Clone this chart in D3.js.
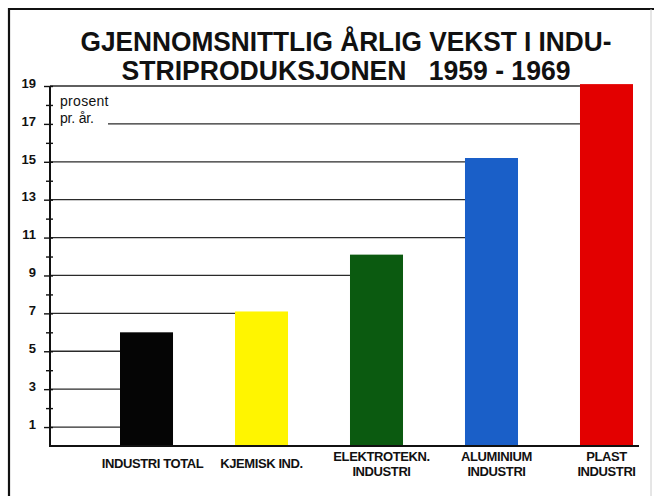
<!DOCTYPE html>
<html>
<head>
<meta charset="utf-8">
<script src="https://cdn.jsdelivr.net/npm/d3@7"></script>
<style>
  html, body { margin: 0; padding: 0; background: #fff; }
  svg { display: block; }
  text { font-family: "Liberation Sans", Arial, sans-serif; }
</style>
</head>
<body>
<div id="chart"></div>
<script>
// ---------- data ----------
const titleLines = ["GJENNOMSNITTLIG ÅRLIG VEKST I INDU-", "STRIPRODUKSJONEN   1959 - 1969"];
const unitLines = ["prosent", "pr. år."];
const categories = [
  ["INDUSTRI TOTAL"],
  ["KJEMISK IND."],
  ["ELEKTROTEKN.", "INDUSTRI"],
  ["ALUMINIUM", "INDUSTRI"],
  ["PLAST", "INDUSTRI"]
];
const values = [6.0, 7.1, 10.1, 15.2, 19.1];
const barColors = ["#050505", "#fff500", "#0b5a10", "#1a5fc8", "#e30000"];
const majorTicks = [1, 3, 5, 7, 9, 11, 13, 15, 17, 19];
const minorTicks = [2, 4, 6, 8, 10, 12, 14, 16, 18];

// ---------- layout ----------
const W = 654, H = 496;
const axisX = 50;
const svg = d3.select("#chart").append("svg").attr("width", W).attr("height", H);

const x = d3.scaleBand().domain(d3.range(categories.length)).range([120, 633])
  .paddingInner(0.539).paddingOuter(0);
const y = d3.scaleLinear().domain([0, 19]).range([446, 86]);

// frame
svg.append("line").attr("x1", 9).attr("x2", 9).attr("y1", 8).attr("y2", H)
  .attr("stroke", "#111").attr("stroke-width", 2.2);
svg.append("line").attr("x1", 8).attr("x2", W).attr("y1", 9).attr("y2", 9)
  .attr("stroke", "#111").attr("stroke-width", 2);
svg.append("line").attr("x1", 651).attr("x2", 651).attr("y1", 9).attr("y2", H)
  .attr("stroke", "#ccc").attr("stroke-width", 1);

// title
const titleWidths = [531, 449];
titleLines.forEach((t, i) => {
  svg.append("text")
    .attr("x", 346).attr("y", 51 + i * 29)
    .attr("text-anchor", "middle")
    .attr("textLength", titleWidths[i]).attr("lengthAdjust", "spacingAndGlyphs")
    .style("white-space", "pre")
    .style("font-size", "27px").style("font-weight", 700).attr("fill", "#111")
    .text(t);
});

// gridlines at odd values: run from axis to the first bar that rises above them
majorTicks.forEach(v => {
  const hit = values.findIndex(d => d > v);
  const xEnd = hit < 0 ? 633 : x(hit);
  const xStart = v === 17 ? 108 : axisX;
  svg.append("line")
    .attr("x1", xStart).attr("x2", xEnd)
    .attr("y1", y(v)).attr("y2", y(v))
    .attr("stroke", "#2a2a2a").attr("stroke-width", 1.3);
});

// unit label
unitLines.forEach((t, i) => {
  svg.append("text")
    .attr("x", 60).attr("y", 106 + i * 17)
    .style("font-size", "14px").attr("fill", "#111")
    .style("letter-spacing", i === 0 ? "0.3px" : "-0.2px")
    .text(t);
});

// bars
svg.append("g").selectAll("rect").data(values).enter().append("rect")
  .attr("x", (d, i) => x(i))
  .attr("y", d => y(d))
  .attr("width", x.bandwidth())
  .attr("height", d => y(0) - y(d))
  .attr("fill", (d, i) => barColors[i]);

// y axis (major ticks with labels, minor without)
const gMaj = svg.append("g").attr("transform", `translate(${axisX},0)`)
  .call(d3.axisLeft(y).tickValues(majorTicks).tickSizeInner(6).tickSizeOuter(0).tickPadding(8)
    .tickFormat(d3.format("d")));
const gMin = svg.append("g").attr("transform", `translate(${axisX},0)`)
  .call(d3.axisLeft(y).tickValues(minorTicks).tickSizeInner(4).tickSizeOuter(0).tickFormat(""));
[gMaj, gMin].forEach(g => {
  g.select(".domain").remove();
  g.selectAll(".tick line").attr("x1", 3).attr("stroke", "#111").attr("stroke-width", 1.4);
});
gMaj.selectAll(".tick text")
  .attr("dy", "0.1em")
  .style("font-size", "13px").style("font-weight", 700)
  .style("font-family", "'Liberation Sans', Arial, sans-serif")
  .attr("fill", "#111");

// axis line and baseline
svg.append("line").attr("x1", axisX).attr("x2", axisX).attr("y1", y(19)).attr("y2", y(0) + 1)
  .attr("stroke", "#111").attr("stroke-width", 2);
svg.append("line").attr("x1", axisX - 1).attr("x2", 639).attr("y1", y(0)).attr("y2", y(0))
  .attr("stroke", "#111").attr("stroke-width", 2);

// category labels
const gLab = svg.append("g");
categories.forEach((lines, i) => {
  const cx = x(i) + x.bandwidth() / 2 + (i === 0 ? 6 : i === 2 || i === 3 ? 5 : 0);
  const base = lines.length === 1 ? 468 : 461;
  lines.forEach((t, j) => {
    gLab.append("text")
      .attr("x", cx).attr("y", base + j * 15)
      .attr("text-anchor", "middle")
      .style("font-size", "13px").style("font-weight", 700)
      .style("letter-spacing", "-0.4px")
      .attr("fill", "#111")
      .text(t);
  });
});
</script>
</body>
</html>
